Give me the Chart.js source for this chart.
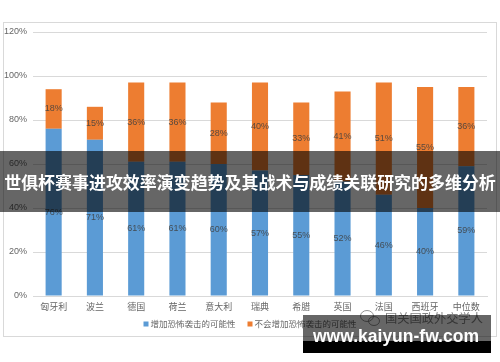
<!DOCTYPE html>
<html>
<head>
<meta charset="utf-8">
<script src="https://cdn.jsdelivr.net/npm/chart.js@4.4.0/dist/chart.umd.min.js"></script>
<style>
  html, body { margin: 0; padding: 0; background: #fff; }
  #wrap { width: 500px; height: 362px; }
</style>
</head>
<body>
<div id="wrap"><canvas id="c" width="500" height="362"></canvas></div>
<script>
const categories = ['匈牙利', '波兰', '德国', '荷兰', '意大利', '瑞典', '希腊', '英国', '法国', '西班牙', '中位数']
const increase = [76, 71, 61, 61, 60, 57, 55, 52, 46, 40, 59]
const noIncrease = [18, 15, 36, 36, 28, 40, 33, 41, 51, 55, 36]
const yTicks = [0, 20, 40, 60, 80, 100, 120]
const seriesNames = ['增加恐怖袭击的可能性', '不会增加恐怖袭击的可能性']
const title = '世俱杯赛事进攻效率演变趋势及其战术与成绩关联研究的多维分析'
const accountMark = '国关国政外交学人'
const siteMark = 'www.kaiyun-fw.com'

const BLUE = '#5B9BD5'
const ORANGE = '#ED7D31'
const FONT = "'Liberation Sans','Noto Sans CJK SC',sans-serif"
const CJK = "'Noto Sans CJK SC',sans-serif"

Chart.defaults.font.family = FONT
Chart.defaults.color = '#666'

// fit a text to a given width by scaling font size
function fitFont(c, text, weight, family, width) {
  c.font = `${weight} 20px ${family}`
  const w = c.measureText(text).width
  return `${weight} ${(20 * width / w).toFixed(2)}px ${family}`
}

const decor = {
  id: 'decor',
  beforeDraw(chart) {
    const c = chart.ctx
    c.save()
    c.fillStyle = '#fff'
    c.fillRect(0, 0, chart.width, chart.height)
    c.strokeStyle = '#d9d9d9'
    c.lineWidth = 1
    c.strokeRect(3.5, 22.5, 493, 314)
    c.restore()
  },
  afterDatasetsDraw(chart) {
    // value labels in the middle of each segment
    const c = chart.ctx
    c.save()
    c.font = `9px ${FONT}`
    c.fillStyle = 'rgba(64,64,64,0.85)'
    c.textAlign = 'center'
    c.textBaseline = 'middle'
    chart.data.datasets.forEach((ds, di) => {
      chart.getDatasetMeta(di).data.forEach((bar, i) => {
        c.fillText(ds.data[i] + '%', bar.x, (bar.y + bar.base) / 2)
      })
    })
    c.restore()
  },
  afterDraw(chart) {
    const c = chart.ctx
    c.save()

    // legend
    c.font = `8.5px ${CJK}`
    c.textBaseline = 'middle'
    const ly = 324
    const items = chart.data.datasets.map(ds => ({ label: ds.label, color: ds.backgroundColor, w: c.measureText(ds.label).width }))
    const total = items.reduce((s, it) => s + 7 + it.w, 0) + 12 * (items.length - 1)
    let lx = 250 - total / 2
    items.forEach(it => {
      c.fillStyle = it.color
      c.fillRect(lx, ly - 2.5, 5, 5)
      c.fillStyle = '#666'
      c.fillText(it.label, lx + 7, ly)
      lx += 7 + it.w + 12
    })

    // title band
    c.fillStyle = 'rgba(0,0,0,0.6)'
    c.fillRect(0, 151, 500, 61)
    c.fillStyle = '#fff'
    c.textAlign = 'center'
    c.textBaseline = 'middle'
    c.font = fitFont(c, title, 'bold', CJK, 492)
    c.fillText(title, 250, 183)

    // account watermark
    c.strokeStyle = 'rgba(120,120,120,0.8)'
    c.lineWidth = 1
    c.beginPath(); c.ellipse(367, 316, 6.5, 5.5, 0, 0, Math.PI * 2); c.stroke()
    c.beginPath(); c.ellipse(374, 321, 5.5, 4.5, 0, 0, Math.PI * 2); c.stroke()
    c.fillStyle = 'rgba(110,110,110,0.85)'
    c.textAlign = 'left'
    c.font = fitFont(c, accountMark, 'normal', CJK, 98)
    c.fillText(accountMark, 385, 318)

    // site watermark
    c.fillStyle = 'rgba(0,0,0,0.6)'
    c.fillRect(303, 315, 188, 26)
    c.fillStyle = '#000'
    c.fillRect(303, 341, 188, 12)
    c.fillStyle = '#fff'
    c.textBaseline = 'alphabetic'
    c.font = fitFont(c, siteMark, 'bold', "'Liberation Sans',sans-serif", 166)
    c.fillText(siteMark, 313, 342)

    c.restore()
  }
}

new Chart(document.getElementById('c'), {
  type: 'bar',
  plugins: [decor],
  data: {
    labels: categories,
    datasets: [
      { label: seriesNames[0], data: increase, backgroundColor: BLUE, borderWidth: 0 },
      { label: seriesNames[1], data: noIncrease, backgroundColor: ORANGE, borderWidth: 0 }
    ]
  },
  options: {
    responsive: false,
    animation: false,
    devicePixelRatio: 1,
    categoryPercentage: 1,
    barPercentage: 0.39,
    layout: { padding: { top: 32, left: 0, right: 13, bottom: 46 } },
    plugins: { legend: { display: false }, tooltip: { enabled: false } },
    scales: {
      x: {
        stacked: true,
        grid: { display: false, drawTicks: false },
        border: { color: '#d9d9d9' },
        ticks: { font: { size: 9, family: CJK }, color: '#666', padding: 5 },
        afterFit: s => { s.height = 20 }
      },
      y: {
        stacked: true,
        min: 0,
        max: 120,
        grid: { color: '#d9d9d9', drawTicks: false },
        border: { display: false },
        ticks: { font: { size: 9 }, color: '#666', padding: 6, callback: v => v + '%' },
        afterBuildTicks: s => { s.ticks = yTicks.map(v => ({ value: v })) },
        afterFit: s => { s.width = 33 }
      }
    }
  }
})
</script>
</body>
</html>
